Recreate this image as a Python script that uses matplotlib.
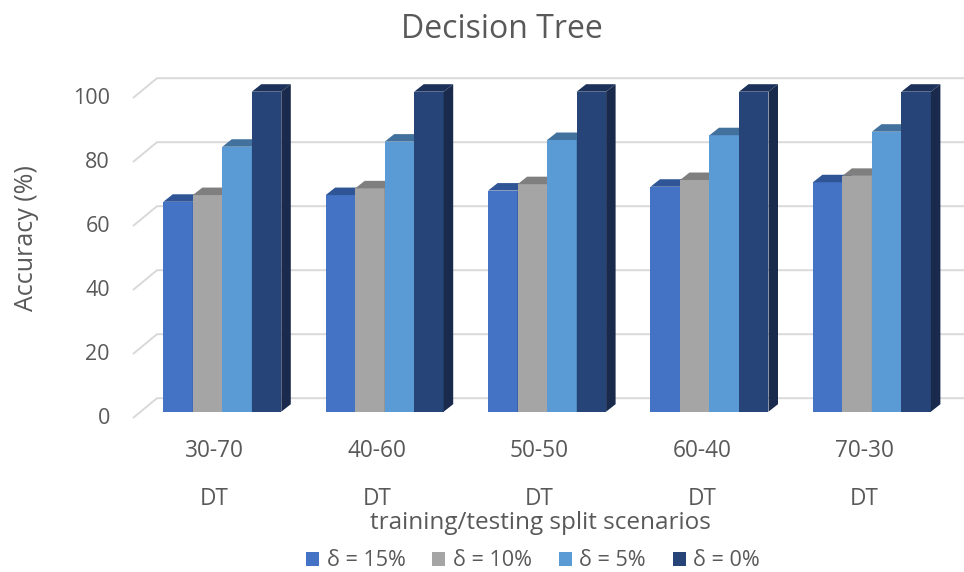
"""
Decision Tree accuracy per training/testing split, drawn as Excel-style
3D clustered columns on a plain matplotlib axes.
"""

import matplotlib
matplotlib.use("Agg")
import matplotlib.pyplot as plt
from matplotlib.patches import Polygon, Patch

plt.rcParams["font.family"] = ["Open Sans", "DejaVu Sans"]

SPLITS = ["30-70", "40-60", "50-50", "60-40", "70-30"]
MODEL = "DT"
SERIES = ["δ = 15%", "δ = 10%", "δ = 5%", "δ = 0%"]
ACC_15 = [65.6, 67.7, 69.1, 70.3, 71.7]
ACC_10 = [67.7, 69.8, 71.1, 72.4, 73.7]
ACC_5 = [82.8, 84.4, 84.9, 86.4, 87.5]
ACC_0 = [100, 100, 100, 100, 100]
YTICKS = [0, 20, 40, 60, 80, 100]

FRONT = ["#4472C4", "#A5A5A5", "#5B9BD5", "#264478"]
TOP = ["#2F5597", "#7F7F7F", "#41719C", "#1C325A"]
SIDE = ["#2B4C8A", "#6E6E6E", "#3A6A96", "#1A2A4C"]
TEXT = "#595959"
GRID = "#D9D9D9"

# pixel scale of the column plane (dpi 100 -> 1 px per dot)
W, H = 964, 572
PX_X = 162.4          # px per category
PX_Y = 3.2            # px per accuracy point
X0_PX, Y0_PX = 222.3, 411.7   # first category centre, 0 % line

# depth offsets in px: front edge, back wall, column depth
FRONT_D = (-7.7, -6.3)
BACK_D = (16.3, 13.5)
BAR_D = (9.5, 7.5)


def px_to_data(dx, dy):
    return dx / PX_X, dy / PX_Y


fig = plt.figure(figsize=(W / 100, H / 100), dpi=100)
ax = fig.add_axes([0, 0, 1, 1])
ax.set_xlim(-X0_PX / PX_X, (W - X0_PX) / PX_X)
ax.set_ylim((Y0_PX - H) / PX_Y, Y0_PX / PX_Y)
ax.axis("off")

fdx, fdy = px_to_data(*FRONT_D)
bdx, bdy = px_to_data(*BACK_D)
ddx, ddy = px_to_data(*BAR_D)
wall_x = (140.7 - X0_PX) / PX_X

# back wall gridlines with the short depth line on the left
for v in YTICKS:
    ax.plot([wall_x + fdx, wall_x + bdx, 5.0], [v + fdy, v + bdy, v + bdy],
            color=GRID, lw=1.4, zorder=1, solid_capstyle="butt")
    ax.text(wall_x + fdx - 23 / PX_X, v + fdy, str(v), ha="right", va="center",
            fontsize=15.5, color=TEXT)

# columns, left to right so each front face hides the previous side face
values = [ACC_15, ACC_10, ACC_5, ACC_0]
bw = 29.5 / PX_X
x = list(range(len(SPLITS)))
for j, vals in enumerate(values):
    pos = [xi + (j - 1.5) * bw for xi in x]
    ax.bar(pos, vals, width=bw, color=FRONT[j], edgecolor="none", zorder=3 + j)
    for p, v in zip(pos, vals):
        x0, x1 = p - bw / 2, p + bw / 2
        top = Polygon([(x0, v), (x1, v), (x1 + ddx, v + ddy), (x0 + ddx, v + ddy)],
                      closed=True, facecolor=TOP[j], edgecolor="none", zorder=3 + j)
        side = Polygon([(x1, 0), (x1 + ddx, ddy), (x1 + ddx, v + ddy), (x1, v)],
                       closed=True, facecolor=SIDE[j], edgecolor="none", zorder=3 + j)
        ax.add_patch(top)
        ax.add_patch(side)

# two-level category labels on the front edge
for xi, split in zip(x, SPLITS):
    ax.annotate(split, (xi + fdx, fdy), xytext=(0, -32.7), textcoords="offset pixels",
                ha="center", va="center", fontsize=16.3, color=TEXT)
    ax.annotate(MODEL, (xi + fdx, fdy), xytext=(0, -81), textcoords="offset pixels",
                ha="center", va="center", fontsize=16.3, color=TEXT)

fig.text(501.7 / W, 1 - 29 / H, "Decision Tree", ha="center", va="center",
         fontsize=23, color=TEXT)
fig.text(27 / W, 1 - 238 / H, "Accuracy (%)", ha="center", va="center",
         rotation=90, fontsize=18, color=TEXT)
fig.text(540 / W, 1 - 523 / H, "training/testing split scenarios", ha="center",
         va="center", fontsize=17.5, color=TEXT)

handles = [Patch(facecolor=c, edgecolor="none") for c in FRONT]
fig.legend(handles, SERIES, loc="center", bbox_to_anchor=(533 / W, 1 - 561 / H),
           ncol=4, frameon=False, fontsize=15.5, handlelength=0.6, handleheight=0.6,
           handletextpad=0.35, columnspacing=1.25, labelcolor=TEXT)

fig.savefig("out.png", dpi=100)
